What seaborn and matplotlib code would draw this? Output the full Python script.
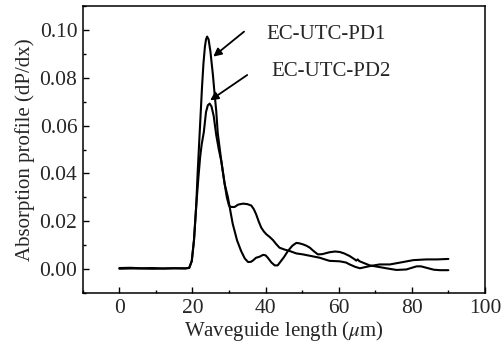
import matplotlib
matplotlib.use("Agg")
import matplotlib.pyplot as plt
import seaborn as sns
import pandas as pd
from matplotlib.ticker import MultipleLocator, FormatStrFormatter

pd1_x = [0, 3, 6, 9, 12, 15, 18, 19.1, 19.8, 20.4, 21.0, 21.4, 21.8, 22.2, 22.6, 23.0, 23.4, 23.7, 24.0,
         24.4, 24.9, 25.6, 26.0, 26.5, 26.9, 27.9, 28.8, 29.7, 30.4, 31.0, 32.2, 33.3, 34.3, 35.2,
         36.0, 36.5, 37.4, 38.3, 39.3, 40.0, 40.6, 41.6, 42.5, 43.3, 43.8, 45.0, 46.1, 47.3, 48.4,
         49.3, 50.2, 51.2, 52.1, 53.2, 54.3, 55.5, 57.5, 59.0, 60.3, 61.5, 63.0, 64.3, 64.8, 65.2,
         65.6, 66.7, 68.5, 70.8, 73.0, 75.8, 78.5, 80.0, 81.3, 82.5, 84.0, 86.0, 87.7, 90.0]
pd1_y = [0.0005, 0.0006, 0.0004, 0.0005, 0.0003, 0.0004, 0.0003, 0.0006, 0.0034, 0.012, 0.026,
         0.040, 0.052, 0.064, 0.076, 0.086, 0.093, 0.096, 0.0972, 0.096, 0.091, 0.081, 0.074, 0.066,
         0.057, 0.045, 0.0356, 0.030, 0.024, 0.019, 0.012, 0.0076, 0.0045, 0.003, 0.0031, 0.0036,
         0.0048, 0.0052, 0.006, 0.0058, 0.0048, 0.0028, 0.0016, 0.0016, 0.0026, 0.005, 0.0076,
         0.0098, 0.011, 0.0108, 0.0104, 0.0098, 0.009, 0.0075, 0.0062, 0.0063, 0.0071, 0.0074,
         0.0072, 0.0066, 0.0055, 0.0042, 0.0036, 0.0041, 0.0034, 0.0027, 0.0016, 0.001, 0.0004,
         -0.0003, -0.0001, 0.0006, 0.0012, 0.0012, 0.0006, -0.0002, -0.0004, -0.0004]

pd2_x = [0, 3, 6, 9, 12, 15, 18, 19.1, 19.8, 20.4, 21.0, 21.6, 22.1, 22.5, 23.1, 23.7, 24.2, 24.7, 25.2,
         25.8, 26.5, 27.2, 27.9, 28.8, 29.4, 30.0, 30.6, 31.5, 32.5, 33.8, 35.0, 36.1, 36.8, 37.4,
         38.1, 38.8, 39.5, 40.2, 41.1, 42.0, 42.9, 43.8, 45.2, 46.6, 48.4, 50.2, 52.5, 54.8, 56.0,
         57.5, 60.3, 62.0, 63.0, 64.5, 65.8, 67.0, 68.5, 71.2, 74.0, 75.8, 77.6, 80.4, 84.0, 87.0, 90.0]
pd2_y = [0.0002, 0.0003, 0.0003, 0.0002, 0.0003, 0.0004, 0.0004, 0.0005, 0.0034, 0.012, 0.026,
         0.038, 0.047, 0.052, 0.0573, 0.0657, 0.0685, 0.0692, 0.068, 0.064, 0.056, 0.050, 0.045, 0.0356,
         0.030, 0.0265, 0.026, 0.026, 0.027, 0.0274, 0.0272, 0.0266, 0.025, 0.023, 0.020, 0.0174,
         0.0158, 0.0146, 0.0135, 0.0122, 0.0105, 0.009, 0.0082, 0.0076, 0.0066, 0.0062, 0.0055,
         0.0048, 0.0042, 0.0035, 0.0033, 0.0028, 0.002, 0.001, 0.0004, 0.0008, 0.0013, 0.002,
         0.002, 0.0025, 0.003, 0.0038, 0.0041, 0.0041, 0.0043]

labels = ["EC-UTC-PD1", "EC-UTC-PD2"]
x_ticks = [0, 20, 40, 60, 80, 100]
y_ticks = [0.00, 0.02, 0.04, 0.06, 0.08, 0.10]

df = pd.concat([
    pd.DataFrame({"x": pd1_x, "y": pd1_y, "s": labels[0]}),
    pd.DataFrame({"x": pd2_x, "y": pd2_y, "s": labels[1]}),
])

sns.set_style("ticks")
plt.rcParams["font.family"] = ["Liberation Serif", "DejaVu Serif"]
plt.rcParams["mathtext.fontset"] = "stix"

fig = plt.figure(figsize=(5.02, 3.49), dpi=100)
ax = fig.add_axes([0.165, 0.160, 0.801, 0.823])
sns.lineplot(data=df, x="x", y="y", hue="s", palette=["black", "black"], linewidth=1.5,
             legend=False, ax=ax, sort=False)

ax.set_xlim(-10, 100)
ax.set_ylim(-0.01, 0.11)
ax.set_xticks(x_ticks)
ax.set_yticks(y_ticks)
ax.xaxis.set_minor_locator(MultipleLocator(10))
ax.yaxis.set_minor_locator(MultipleLocator(0.01))
ax.yaxis.set_major_formatter(FormatStrFormatter("%.2f"))
ax.tick_params(which="major", direction="in", length=4.5, width=1, labelsize=15.5, color="black", pad=4)
ax.tick_params(which="minor", direction="in", length=2.5, width=1, color="black")
ax.tick_params(top=False, right=False, which="both")
for sp in ax.spines.values():
    sp.set_visible(True)
    sp.set_linewidth(1.1)
    sp.set_color("black")

ax.set_xlabel("Waveguide length ($\\mu$m)", fontsize=15, labelpad=1)
ax.set_ylabel("Absorption profile (dP/dx)", fontsize=15, labelpad=3)

ax.annotate("", xy=(25.1, 0.0881), xytext=(34.7, 0.100),
            arrowprops=dict(arrowstyle="-|>", color="black", lw=1.3, mutation_scale=12))
ax.annotate("", xy=(24.2, 0.0699), xytext=(35.6, 0.0818),
            arrowprops=dict(arrowstyle="-|>", color="black", lw=1.3, mutation_scale=12))
ax.text(40.2, 0.0979, labels[0], fontsize=15, va="center", ha="left")
ax.text(41.6, 0.0825, labels[1], fontsize=15, va="center", ha="left")

fig.savefig("out.png", dpi=100)
